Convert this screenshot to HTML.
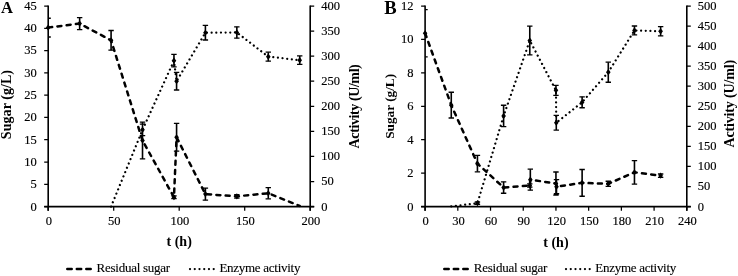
<!DOCTYPE html>
<html><head><meta charset="utf-8"><title>Figure</title>
<style>html,body{margin:0;padding:0;background:#fff}body{width:738px;height:276px;overflow:hidden}</style></head>
<body>
<svg width="738" height="276" viewBox="0 0 738 276" style="display:block">
<rect width="738" height="276" fill="#fff"/>
<g font-family='"Liberation Serif", serif' font-size="12.5" fill="#000" stroke="#000" stroke-width="0.15">
<text x="36.70" y="210.50" text-anchor="end">0</text>
<text x="36.70" y="188.21" text-anchor="end">5</text>
<text x="36.70" y="165.92" text-anchor="end">10</text>
<text x="36.70" y="143.63" text-anchor="end">15</text>
<text x="36.70" y="121.34" text-anchor="end">20</text>
<text x="36.70" y="99.06" text-anchor="end">25</text>
<text x="36.70" y="76.77" text-anchor="end">30</text>
<text x="36.70" y="54.48" text-anchor="end">35</text>
<text x="36.70" y="32.19" text-anchor="end">40</text>
<text x="36.70" y="9.90" text-anchor="end">45</text>
<text x="321.20" y="210.50">0</text>
<text x="321.20" y="185.43">50</text>
<text x="321.20" y="160.35">100</text>
<text x="321.20" y="135.28">150</text>
<text x="321.20" y="110.20">200</text>
<text x="321.20" y="85.13">250</text>
<text x="321.20" y="60.05">300</text>
<text x="321.20" y="34.98">350</text>
<text x="321.20" y="9.90">400</text>
<text x="48.80" y="224.70" text-anchor="middle">0</text>
<text x="114.30" y="224.70" text-anchor="middle">50</text>
<text x="179.80" y="224.70" text-anchor="middle">100</text>
<text x="245.30" y="224.70" text-anchor="middle">150</text>
<text x="310.80" y="224.70" text-anchor="middle">200</text>
</g>
<polyline points="48.20,27.62 79.64,23.61 111.08,40.32 142.52,140.49 173.96,197.24 176.58,137.24 205.40,194.12 236.84,196.35 268.28,193.23 299.72,205.93" fill="none" stroke="#000" stroke-width="2.5" stroke-dasharray="4.0 5.3" stroke-linejoin="round" stroke-linecap="round"/>
<polyline points="111.08,206.60 142.52,129.87 173.96,60.66 176.58,81.23 205.40,32.73 236.84,32.48 268.28,56.65 299.72,60.16" fill="none" stroke="#000" stroke-width="2.25" stroke-dasharray="0.01 4.65" stroke-linecap="round"/>
<path d="M48.20 18.26h2.6M48.20 36.98h2.6M76.94 17.59h5.4M76.94 29.63h5.4M108.38 30.52h5.4M108.38 50.13h5.4M139.82 122.04h5.4M139.82 158.95h5.4M171.26 195.90h5.4M171.26 198.58h5.4M173.88 123.42h5.4M173.88 151.06h5.4M202.70 188.10h5.4M202.70 200.14h5.4M234.14 194.56h5.4M234.14 198.13h5.4M265.58 187.65h5.4M265.58 198.80h5.4M139.82 124.20h5.4M139.82 135.54h5.4M171.26 54.39h5.4M171.26 66.93h5.4M173.88 72.45h5.4M173.88 90.00h5.4M202.70 25.46h5.4M202.70 40.00h5.4M234.14 26.81h5.4M234.14 38.15h5.4M265.58 52.14h5.4M265.58 61.16h5.4M297.02 55.90h5.4M297.02 64.42h5.4" stroke="#000" stroke-width="1.3" fill="none"/>
<path d="M79.64 17.59V29.63M111.08 30.52V50.13M142.52 122.04V158.95M173.96 195.90V198.58M176.58 123.42V151.06M205.40 188.10V200.14M236.84 194.56V198.13M268.28 187.65V198.80M142.52 124.20V135.54M173.96 54.39V66.93M176.58 72.45V90.00M205.40 25.46V40.00M236.84 26.81V38.15M268.28 52.14V61.16M299.72 55.90V64.42" stroke="#000" stroke-width="1.6" fill="none"/>
<g stroke="#000" stroke-width="1.6" fill="none" stroke-linecap="butt">
<path d="M48.20 5.40V210.80M310.20 5.40V210.80M44.20 206.60H314.20"/>
<path d="M44.20 206.60H48.20M44.20 184.31H48.20M44.20 162.02H48.20M44.20 139.73H48.20M44.20 117.44H48.20M44.20 95.16H48.20M44.20 72.87H48.20M44.20 50.58H48.20M44.20 28.29H48.20M44.20 6.00H48.20M310.20 206.60H314.20M310.20 181.53H314.20M310.20 156.45H314.20M310.20 131.38H314.20M310.20 106.30H314.20M310.20 81.23H314.20M310.20 56.15H314.20M310.20 31.08H314.20M310.20 6.00H314.20M48.20 206.60V210.80M113.70 206.60V210.80M179.20 206.60V210.80M244.70 206.60V210.80M310.20 206.60V210.80" stroke-width="1.25"/></g>
<path d="M45.90 27.62L48.20 24.52L50.50 27.62L48.20 30.72Z" fill="#000"/>
<path d="M77.34 23.61L79.64 20.51L81.94 23.61L79.64 26.71Z" fill="#000"/>
<path d="M108.78 40.32L111.08 37.22L113.38 40.32L111.08 43.42Z" fill="#000"/>
<path d="M140.22 140.49L142.52 137.39L144.82 140.49L142.52 143.59Z" fill="#000"/>
<path d="M171.66 197.24L173.96 194.14L176.26 197.24L173.96 200.34Z" fill="#000"/>
<path d="M174.28 137.24L176.58 134.14L178.88 137.24L176.58 140.34Z" fill="#000"/>
<path d="M203.10 194.12L205.40 191.02L207.70 194.12L205.40 197.22Z" fill="#000"/>
<path d="M234.54 196.35L236.84 193.25L239.14 196.35L236.84 199.45Z" fill="#000"/>
<path d="M265.98 193.23L268.28 190.13L270.58 193.23L268.28 196.33Z" fill="#000"/>
<path d="M140.22 129.87L142.52 126.77L144.82 129.87L142.52 132.97Z" fill="#000"/>
<path d="M171.66 60.66L173.96 57.56L176.26 60.66L173.96 63.76Z" fill="#000"/>
<path d="M174.28 81.23L176.58 78.13L178.88 81.23L176.58 84.33Z" fill="#000"/>
<path d="M203.10 32.73L205.40 29.63L207.70 32.73L205.40 35.83Z" fill="#000"/>
<path d="M234.54 32.48L236.84 29.38L239.14 32.48L236.84 35.58Z" fill="#000"/>
<path d="M265.98 56.65L268.28 53.55L270.58 56.65L268.28 59.75Z" fill="#000"/>
<path d="M297.42 60.16L299.72 57.06L302.02 60.16L299.72 63.26Z" fill="#000"/>
<g font-family='"Liberation Serif", serif' font-weight="bold" fill="#000">
<text x="1" y="13.1" font-size="16.6">A</text>
<text x="179.20" y="245.8" font-size="14" text-anchor="middle">t (h)</text>
<text transform="translate(11.2 104.55) rotate(-90)" font-size="14" text-anchor="middle" textLength="69.2" lengthAdjust="spacing">Sugar (g/L)</text>
<text transform="translate(359 106.30) rotate(-90)" font-size="14" text-anchor="middle" textLength="84.2" lengthAdjust="spacing">Activity (U/ml)</text>
</g>
<path d="M67.3 269.0H91" stroke="#000" stroke-width="2.5" stroke-dasharray="4.4 5.1" stroke-linecap="round"/>
<path d="M190.0 269.0H214" stroke="#000" stroke-width="2.25" stroke-dasharray="0.01 4.73" stroke-linecap="round"/>
<g font-family='"Liberation Serif", serif' font-size="13" fill="#000" stroke="#000" stroke-width="0.12">
<text x="96.6" y="272.3" textLength="73.6" lengthAdjust="spacing">Residual sugar</text>
<text x="219.4" y="272.3" textLength="81" lengthAdjust="spacing">Enzyme activity</text>
</g>
<g font-family='"Liberation Serif", serif' font-size="12.5" fill="#000" stroke="#000" stroke-width="0.15">
<text x="413.60" y="210.50" text-anchor="end">0</text>
<text x="413.60" y="177.07" text-anchor="end">2</text>
<text x="413.60" y="143.63" text-anchor="end">4</text>
<text x="413.60" y="110.20" text-anchor="end">6</text>
<text x="413.60" y="76.77" text-anchor="end">8</text>
<text x="413.60" y="43.33" text-anchor="end">10</text>
<text x="413.60" y="9.90" text-anchor="end">12</text>
<text x="697.80" y="210.50">0</text>
<text x="697.80" y="190.44">50</text>
<text x="697.80" y="170.38">100</text>
<text x="697.80" y="150.32">150</text>
<text x="697.80" y="130.26">200</text>
<text x="697.80" y="110.20">250</text>
<text x="697.80" y="90.14">300</text>
<text x="697.80" y="70.08">350</text>
<text x="697.80" y="50.02">400</text>
<text x="697.80" y="29.96">450</text>
<text x="697.80" y="9.90">500</text>
<text x="425.70" y="224.70" text-anchor="middle">0</text>
<text x="458.41" y="224.70" text-anchor="middle">30</text>
<text x="491.12" y="224.70" text-anchor="middle">60</text>
<text x="523.84" y="224.70" text-anchor="middle">90</text>
<text x="556.55" y="224.70" text-anchor="middle">120</text>
<text x="589.26" y="224.70" text-anchor="middle">150</text>
<text x="621.98" y="224.70" text-anchor="middle">180</text>
<text x="654.69" y="224.70" text-anchor="middle">210</text>
<text x="687.40" y="224.70" text-anchor="middle">240</text>
</g>
<polyline points="425.10,33.25 451.27,105.13 477.44,163.64 503.61,187.54 529.78,185.54 530.33,179.69 555.95,183.53 556.50,186.71 582.12,182.86 608.29,183.78 634.46,172.33 660.63,175.67" fill="none" stroke="#000" stroke-width="2.5" stroke-dasharray="4.0 5.3" stroke-linejoin="round" stroke-linecap="round"/>
<polyline points="451.27,206.40 477.44,203.19 503.61,115.93 529.78,40.50 555.95,90.37 556.28,122.75 582.12,102.29 608.29,72.20 634.46,30.47 660.63,31.28" fill="none" stroke="#000" stroke-width="2.25" stroke-dasharray="0.01 4.65" stroke-linecap="round"/>
<path d="M425.10 9.68h2.6M425.10 56.82h2.6M448.57 92.26h5.4M448.57 118.00h5.4M474.74 155.45h5.4M474.74 171.83h5.4M500.91 181.86h5.4M500.91 193.23h5.4M527.08 183.87h5.4M527.08 187.21h5.4M527.63 169.15h5.4M527.63 190.22h5.4M553.25 172.00h5.4M553.25 195.07h5.4M553.80 179.69h5.4M553.80 193.73h5.4M579.42 169.49h5.4M579.42 196.24h5.4M605.59 181.27h5.4M605.59 186.29h5.4M631.76 160.63h5.4M631.76 184.03h5.4M657.93 174.00h5.4M657.93 177.35h5.4M474.74 201.99h5.4M474.74 204.39h5.4M500.91 105.26h5.4M500.91 126.60h5.4M527.08 26.06h5.4M527.08 54.95h5.4M553.25 85.40h5.4M553.25 95.35h5.4M553.58 115.45h5.4M553.58 130.05h5.4M579.42 96.83h5.4M579.42 107.74h5.4M605.59 62.17h5.4M605.59 82.23h5.4M631.76 25.98h5.4M631.76 34.97h5.4M657.93 26.58h5.4M657.93 35.97h5.4" stroke="#000" stroke-width="1.3" fill="none"/>
<path d="M451.27 92.26V118.00M477.44 155.45V171.83M503.61 181.86V193.23M529.78 183.87V187.21M530.33 169.15V190.22M555.95 172.00V195.07M556.50 179.69V193.73M582.12 169.49V196.24M608.29 181.27V186.29M634.46 160.63V184.03M660.63 174.00V177.35M477.44 201.99V204.39M503.61 105.26V126.60M529.78 26.06V54.95M555.95 85.40V95.35M556.28 115.45V130.05M582.12 96.83V107.74M608.29 62.17V82.23M634.46 25.98V34.97M660.63 26.58V35.97" stroke="#000" stroke-width="1.6" fill="none"/>
<g stroke="#000" stroke-width="1.6" fill="none" stroke-linecap="butt">
<path d="M425.10 5.40V210.80M686.80 5.40V210.80M421.10 206.60H690.80"/>
<path d="M421.10 206.60H425.10M421.10 173.17H425.10M421.10 139.73H425.10M421.10 106.30H425.10M421.10 72.87H425.10M421.10 39.43H425.10M421.10 6.00H425.10M686.80 206.60H690.80M686.80 186.54H690.80M686.80 166.48H690.80M686.80 146.42H690.80M686.80 126.36H690.80M686.80 106.30H690.80M686.80 86.24H690.80M686.80 66.18H690.80M686.80 46.12H690.80M686.80 26.06H690.80M686.80 6.00H690.80M425.10 206.60V210.80M457.81 206.60V210.80M490.52 206.60V210.80M523.24 206.60V210.80M555.95 206.60V210.80M588.66 206.60V210.80M621.38 206.60V210.80M654.09 206.60V210.80M686.80 206.60V210.80" stroke-width="1.25"/></g>
<path d="M422.80 33.25L425.10 30.15L427.40 33.25L425.10 36.35Z" fill="#000"/>
<path d="M448.97 105.13L451.27 102.03L453.57 105.13L451.27 108.23Z" fill="#000"/>
<path d="M475.14 163.64L477.44 160.54L479.74 163.64L477.44 166.74Z" fill="#000"/>
<path d="M501.31 187.54L503.61 184.44L505.91 187.54L503.61 190.64Z" fill="#000"/>
<path d="M527.48 185.54L529.78 182.44L532.08 185.54L529.78 188.64Z" fill="#000"/>
<path d="M528.03 179.69L530.33 176.59L532.63 179.69L530.33 182.79Z" fill="#000"/>
<path d="M553.65 183.53L555.95 180.43L558.25 183.53L555.95 186.63Z" fill="#000"/>
<path d="M554.20 186.71L556.50 183.61L558.80 186.71L556.50 189.81Z" fill="#000"/>
<path d="M579.82 182.86L582.12 179.76L584.42 182.86L582.12 185.96Z" fill="#000"/>
<path d="M605.99 183.78L608.29 180.68L610.59 183.78L608.29 186.88Z" fill="#000"/>
<path d="M632.16 172.33L634.46 169.23L636.76 172.33L634.46 175.43Z" fill="#000"/>
<path d="M658.33 175.67L660.63 172.57L662.93 175.67L660.63 178.77Z" fill="#000"/>
<path d="M475.14 203.19L477.44 200.09L479.74 203.19L477.44 206.29Z" fill="#000"/>
<path d="M501.31 115.93L503.61 112.83L505.91 115.93L503.61 119.03Z" fill="#000"/>
<path d="M527.48 40.50L529.78 37.40L532.08 40.50L529.78 43.60Z" fill="#000"/>
<path d="M553.65 90.37L555.95 87.27L558.25 90.37L555.95 93.47Z" fill="#000"/>
<path d="M553.98 122.75L556.28 119.65L558.58 122.75L556.28 125.85Z" fill="#000"/>
<path d="M579.82 102.29L582.12 99.19L584.42 102.29L582.12 105.39Z" fill="#000"/>
<path d="M605.99 72.20L608.29 69.10L610.59 72.20L608.29 75.30Z" fill="#000"/>
<path d="M632.16 30.47L634.46 27.37L636.76 30.47L634.46 33.57Z" fill="#000"/>
<path d="M658.33 31.28L660.63 28.18L662.93 31.28L660.63 34.38Z" fill="#000"/>
<g font-family='"Liberation Serif", serif' font-weight="bold" fill="#000">
<text x="384.3" y="13.7" font-size="18.6">B</text>
<text x="555.95" y="246.7" font-size="14" text-anchor="middle">t (h)</text>
<text transform="translate(393.5 106.35) rotate(-90)" font-size="13.3" text-anchor="middle" textLength="65" lengthAdjust="spacing">Sugar (g/L)</text>
<text transform="translate(734.3 103.70) rotate(-90)" font-size="14" text-anchor="middle" textLength="87.8" lengthAdjust="spacing">Activity (U/ml)</text>
</g>
<path d="M444.3 269.0H468.4" stroke="#000" stroke-width="2.5" stroke-dasharray="4.4 5.1" stroke-linecap="round"/>
<path d="M566 269.0H590" stroke="#000" stroke-width="2.25" stroke-dasharray="0.01 4.73" stroke-linecap="round"/>
<g font-family='"Liberation Serif", serif' font-size="13" fill="#000" stroke="#000" stroke-width="0.12">
<text x="473.8" y="272.3" textLength="73.6" lengthAdjust="spacing">Residual sugar</text>
<text x="595.3" y="272.3" textLength="81" lengthAdjust="spacing">Enzyme activity</text>
</g>
</svg>
</body></html>
